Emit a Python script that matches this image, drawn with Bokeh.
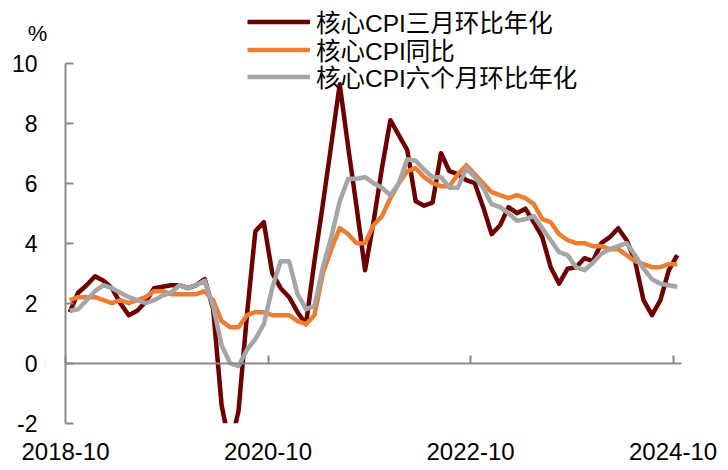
from bokeh.plotting import figure
from bokeh.models import FixedTicker, Legend, LegendItem, Range1d, Label, BoxAnnotation
from bokeh.embed import file_html
from bokeh.resources import INLINE

# ---------------- data (monthly, 2018-10 .. 2024-10) ----------------
months = [f"{2018 + (9 + k) // 12}-{(9 + k) % 12 + 1:02d}" for k in range(73)]

core_3m_ann = [1.7, 2.35, 2.6, 2.9, 2.75, 2.5, 2.0, 1.6, 1.75, 2.05,
               2.5, 2.55, 2.6, 2.6, 2.5, 2.6, 2.8, 1.8, -1.4, -2.8,
               -1.6, 1.6, 4.4, 4.7, 3.0, 2.5, 2.2, 1.7, 1.3, 3.4,
               5.3, 7.3, 9.3, 7.2, 5.2, 3.1, 4.7, 6.5, 8.1, 7.6,
               7.1, 5.4, 5.25, 5.35, 7.0, 6.4, 6.3, 6.1, 6.0, 5.2,
               4.3, 4.6, 5.2, 5.0, 5.15, 4.7, 4.2, 3.2, 2.65, 3.15,
               3.2, 3.5, 3.4, 4.0, 4.2, 4.5, 4.1, 3.4, 2.1, 1.6,
               2.1, 3.1, 3.6]

core_yoy = [2.1, 2.2, 2.2, 2.2, 2.1, 2.0, 2.1, 2.0, 2.1, 2.2,
            2.4, 2.4, 2.3, 2.3, 2.3, 2.3, 2.4, 2.1, 1.4, 1.2,
            1.2, 1.6, 1.7, 1.7, 1.6, 1.6, 1.6, 1.4, 1.3, 1.6,
            3.0, 3.8, 4.5, 4.3, 4.0, 4.0, 4.6, 4.9, 5.5, 6.0,
            6.4, 6.5, 6.2, 6.0, 5.9, 5.9, 6.3, 6.6, 6.3, 6.0,
            5.7, 5.6, 5.5, 5.6, 5.5, 5.3, 4.8, 4.7, 4.3, 4.1,
            4.0, 4.0, 3.9, 3.9, 3.8, 3.8, 3.6, 3.4, 3.3, 3.2,
            3.2, 3.3, 3.3]

core_6m_ann = [1.75, 1.8, 2.1, 2.4, 2.6, 2.5, 2.35, 2.2, 2.1, 2.0,
               2.1, 2.25, 2.35, 2.6, 2.5, 2.6, 2.75, 1.9, 0.6, 0.0,
               -0.1, 0.45, 0.8, 1.3, 2.5, 3.4, 3.4, 2.3, 1.8, 1.9,
               3.2, 4.2, 5.4, 6.15, 6.15, 6.2, 6.0, 5.85, 5.6, 6.0,
               6.8, 6.75, 6.45, 6.2, 6.2, 5.85, 5.85, 6.5, 6.2, 5.85,
               5.3, 5.2, 5.0, 4.75, 4.8, 4.9, 4.5, 4.1, 3.7, 3.6,
               3.2, 3.1, 3.35, 3.65, 3.8, 3.9, 4.0, 3.6, 3.15, 2.8,
               2.65, 2.6, 2.55]

series_names = ["核心CPI三月环比年化", "核心CPI同比", "核心CPI六个月环比年化"]
series_colors = ["#6E0000", "#ED7D31", "#A5A5A5"]
x_tick_labels = ["2018-10", "2020-10", "2022-10", "2024-10"]
y_ticks = [-2, 0, 2, 4, 6, 8, 10]
y_unit = "%"

# ---------------- chart ----------------
FONT = "Liberation Sans, Noto Sans CJK SC"
AXIS_COLOR = "#898989"
W, H = 728, 470
# plot area of the reference: x 65..681 px, y(10)=63 px, y(-2)=423 px
PX_LEFT, PX_RIGHT = 65, 681
PY_ZERO, PX_PER_UNIT = 362.7, 30.0

n = len(months)
xs = [k + 0.5 for k in range(n)]
tick_pos = [months.index(t) for t in x_tick_labels]
Y_MIN, Y_MAX = y_ticks[0], y_ticks[-1]

px_per_month = (PX_RIGHT - PX_LEFT) / n
x_range = Range1d(-PX_LEFT / px_per_month, (W - PX_LEFT) / px_per_month)
y_range = Range1d(-(H - PY_ZERO) / PX_PER_UNIT, PY_ZERO / PX_PER_UNIT)

# the frame fills the whole page; the axes are placed with fixed_location
p = figure(width=W, height=H, output_backend="svg", toolbar_location=None,
           x_range=x_range, y_range=y_range, min_border=0)
p.title.visible = False
p.xgrid.visible = False
p.ygrid.visible = False
p.outline_line_color = None
p.background_fill_color = "white"
p.border_fill_color = "white"

renderers = []
for vals, name, col in zip([core_3m_ann, core_yoy, core_6m_ann], series_names, series_colors):
    r = p.line(xs, vals, line_color=col, line_width=4.5, line_join="round")
    renderers.append(r)

# mask everything below the axis minimum (the reference clips there)
mask = BoxAnnotation(top=Y_MIN, fill_color="white", fill_alpha=1.0,
                     line_color=None, level="glyph")
p.add_layout(mask)

# x axis: line + ticks at y = 0, labels pushed down below the value -2
xa = p.below[0]
xa.fixed_location = 0
xa.bounds = (0, n)
xa.ticker = FixedTicker(ticks=tick_pos)
xa.major_label_overrides = {pos: lab for pos, lab in zip(tick_pos, x_tick_labels)}
xa.axis_line_color = AXIS_COLOR
xa.axis_line_width = 2
xa.major_tick_line_color = AXIS_COLOR
xa.major_tick_line_width = 2
xa.major_tick_in = 8
xa.major_tick_out = 0
xa.minor_tick_line_color = None
xa.major_label_text_font_size = "24px"
xa.major_label_text_font = FONT
xa.major_label_text_color = "black"
xa.major_label_standoff = int(round(20 + (0 - Y_MIN) * PX_PER_UNIT))

ya = p.yaxis[0]
ya.fixed_location = 0
ya.ticker = FixedTicker(ticks=y_ticks)
ya.bounds = (Y_MIN, Y_MAX)
ya.major_label_overrides = {t: str(t) for t in y_ticks}
ya.axis_line_color = AXIS_COLOR
ya.axis_line_width = 2
ya.major_tick_line_color = AXIS_COLOR
ya.major_tick_line_width = 2
ya.major_tick_in = 8
ya.major_tick_out = 0
ya.minor_tick_line_color = None
ya.major_label_text_font_size = "23px"
ya.major_label_text_font = FONT
ya.major_label_text_color = "black"
ya.major_label_standoff = 28

# unit label
p.add_layout(Label(x=-3.3, y=11.0, text=y_unit, text_font_size="22px",
                   text_font=FONT, text_align="center", text_baseline="middle",
                   text_color="black"))

# legend: one single-item legend per row so rows sit exactly as in the reference
row_centers = [22, 49.5, 77]
item_h = 34
for name, r, cy in zip(series_names, renderers, row_centers):
    lg = Legend(items=[LegendItem(label=name, renderers=[r])],
                location=(247, H - (cy + item_h / 2)),
                glyph_width=63, glyph_height=27, label_height=27,
                spacing=0, padding=0, margin=0, label_standoff=6,
                border_line_color=None, background_fill_alpha=0,
                label_text_font_size="24.5px", label_text_font=FONT,
                label_text_color="black")
    p.add_layout(lg, "center")

open("out.html", "w").write(file_html(p, INLINE))
